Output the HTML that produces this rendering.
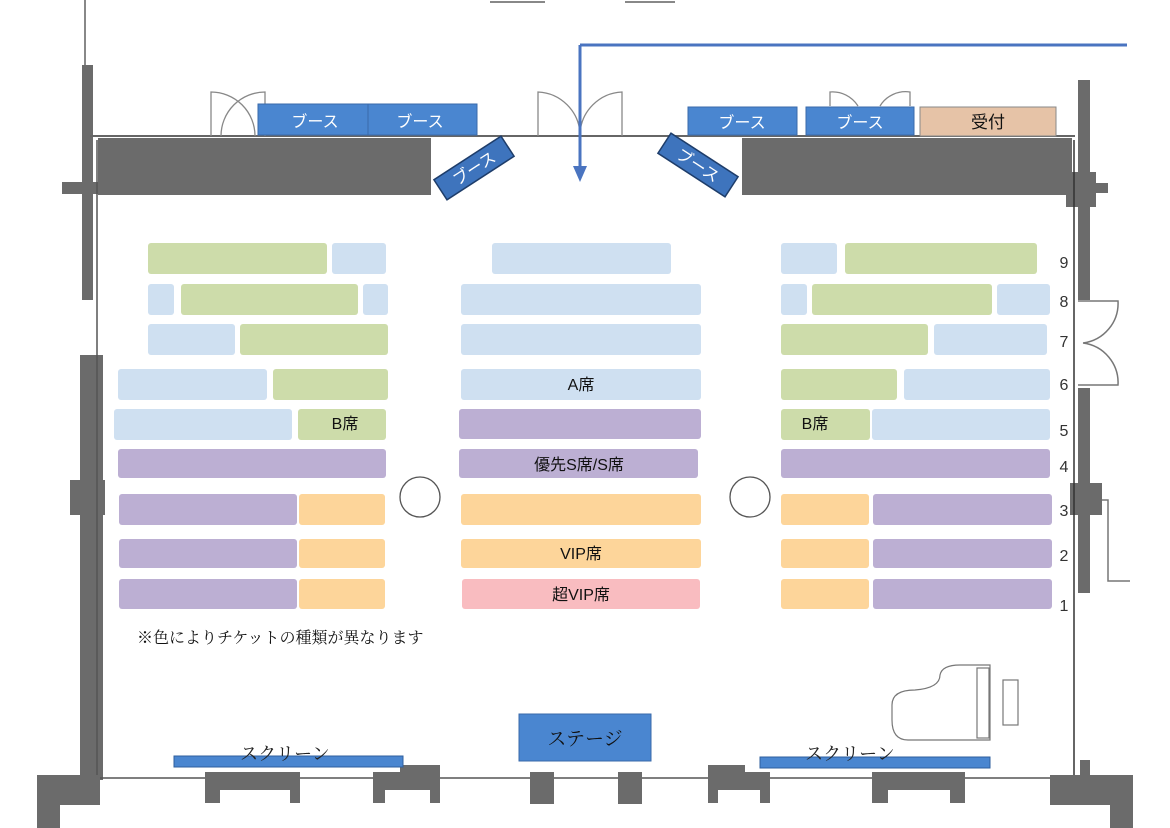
<!DOCTYPE html>
<html><head><meta charset="utf-8"><style>
html,body{margin:0;padding:0;background:#fff;}
svg{display:block;font-family:"Liberation Sans","Noto Sans CJK JP",sans-serif;}
</style></head><body>
<svg width="1170" height="828" viewBox="0 0 1170 828" xmlns="http://www.w3.org/2000/svg">
<!-- top misc lines -->
<line x1="490" y1="2" x2="545" y2="2" stroke="#888" stroke-width="2"/>
<line x1="625" y1="2" x2="675" y2="2" stroke="#888" stroke-width="2"/>
<!-- left wall -->
<rect x="84" y="0" width="2" height="65" fill="#888"/>
<rect x="82" y="65" width="11" height="235" fill="#6b6b6b"/>
<rect x="80" y="355" width="23" height="425" fill="#6b6b6b"/>
<rect x="70" y="480" width="35" height="35" fill="#6b6b6b"/>
<rect x="62" y="182" width="40" height="12" fill="#6b6b6b"/>
<line x1="97" y1="140" x2="97" y2="778" stroke="#555" stroke-width="1.5"/>
<!-- right wall -->
<rect x="1078" y="80" width="12" height="220" fill="#6b6b6b"/>
<rect x="1078" y="388" width="12" height="205" fill="#6b6b6b"/>
<rect x="1066" y="172" width="30" height="35" fill="#6b6b6b"/>
<rect x="1090" y="183" width="18" height="10" fill="#6b6b6b"/>
<rect x="1070" y="483" width="32" height="32" fill="#6b6b6b"/>
<line x1="1074" y1="140" x2="1074" y2="778" stroke="#333" stroke-width="1.5"/>
<path d="M1078 301 L1118 301 A40 40 0 0 1 1083 343 M1078 385 L1118 385 A40 40 0 0 0 1083 343" fill="none" stroke="#777" stroke-width="1.5"/>
<path d="M1102 500 L1108 500 L1108 581 L1130 581" fill="none" stroke="#777" stroke-width="1.5"/>
<!-- top wall -->
<line x1="90" y1="136" x2="1075" y2="136" stroke="#666" stroke-width="2"/>
<rect x="98" y="138" width="333" height="57" fill="#6b6b6b"/>
<rect x="742" y="138" width="330" height="57" fill="#6b6b6b"/>
<!-- doors -->
<path d="M211 136 L211 92 A44 44 0 0 1 255 136 M265 136 L265 92 A44 44 0 0 0 221 136" fill="none" stroke="#888" stroke-width="1.3"/>
<path d="M538 136 L538 92 A44 44 0 0 1 580 134 M622 136 L622 92 A44 44 0 0 0 580 134" fill="none" stroke="#888" stroke-width="1.3"/>
<path d="M830 106 L830 92 A30 30 0 0 1 858 106 M910 106 L910 92 A30 30 0 0 0 880 106" fill="none" stroke="#888" stroke-width="1.3"/>
<!-- booths -->
<g font-size="16" fill="#fff" text-anchor="middle">
<rect x="258" y="104" width="110" height="31" fill="#4a86d0" stroke="#3a6aaa"/>
<rect x="368" y="104" width="109" height="31" fill="#4a86d0" stroke="#3a6aaa"/>
<text x="315" y="127">ブース</text><text x="420" y="127">ブース</text>
<rect x="688" y="107" width="109" height="28" fill="#4a86d0" stroke="#3a6aaa"/>
<rect x="806" y="107" width="108" height="28" fill="#4a86d0" stroke="#3a6aaa"/>
<text x="742" y="128">ブース</text><text x="860" y="128">ブース</text>
<g transform="translate(474,168) rotate(-33)"><rect x="-40" y="-12" width="80" height="24" fill="#3e74bd" stroke="#1e3d6a" stroke-width="1.5"/><text x="0" y="6">ブース</text></g>
<g transform="translate(698,165) rotate(33)"><rect x="-40" y="-12" width="80" height="24" fill="#3e74bd" stroke="#1e3d6a" stroke-width="1.5"/><text x="0" y="6">ブース</text></g>
</g>
<rect x="920" y="107" width="136" height="29" fill="#e6c3a7" stroke="#888"/>
<text x="988" y="128" font-size="17" text-anchor="middle" fill="#111">受付</text>
<!-- arrow -->
<path d="M580 45 L1127 45 M580 45 L580 168" fill="none" stroke="#4a74c0" stroke-width="3"/>
<polygon points="573,166 587,166 580,182" fill="#4a74c0"/>
<!-- seats -->
<g>
<!-- row 9 -->
<rect x="148" y="243" width="179" height="31" rx="3" fill="#cddcaa"/>
<rect x="332" y="243" width="54" height="31" rx="3" fill="#cfe0f1"/>
<rect x="492" y="243" width="179" height="31" rx="3" fill="#cfe0f1"/>
<rect x="781" y="243" width="56" height="31" rx="3" fill="#cfe0f1"/>
<rect x="845" y="243" width="192" height="31" rx="3" fill="#cddcaa"/>
<!-- row 8 -->
<rect x="148" y="284" width="26" height="31" rx="3" fill="#cfe0f1"/>
<rect x="181" y="284" width="177" height="31" rx="3" fill="#cddcaa"/>
<rect x="363" y="284" width="25" height="31" rx="3" fill="#cfe0f1"/>
<rect x="461" y="284" width="240" height="31" rx="3" fill="#cfe0f1"/>
<rect x="781" y="284" width="26" height="31" rx="3" fill="#cfe0f1"/>
<rect x="812" y="284" width="180" height="31" rx="3" fill="#cddcaa"/>
<rect x="997" y="284" width="53" height="31" rx="3" fill="#cfe0f1"/>
<!-- row 7 -->
<rect x="148" y="324" width="87" height="31" rx="3" fill="#cfe0f1"/>
<rect x="240" y="324" width="148" height="31" rx="3" fill="#cddcaa"/>
<rect x="461" y="324" width="240" height="31" rx="3" fill="#cfe0f1"/>
<rect x="781" y="324" width="147" height="31" rx="3" fill="#cddcaa"/>
<rect x="934" y="324" width="113" height="31" rx="3" fill="#cfe0f1"/>
<!-- row 6 -->
<rect x="118" y="369" width="149" height="31" rx="3" fill="#cfe0f1"/>
<rect x="273" y="369" width="115" height="31" rx="3" fill="#cddcaa"/>
<rect x="461" y="369" width="240" height="31" rx="3" fill="#cfe0f1"/>
<rect x="781" y="369" width="116" height="31" rx="3" fill="#cddcaa"/>
<rect x="904" y="369" width="146" height="31" rx="3" fill="#cfe0f1"/>
<!-- row 5 -->
<rect x="114" y="409" width="178" height="31" rx="3" fill="#cfe0f1"/>
<rect x="298" y="409" width="88" height="31" rx="3" fill="#cddcaa"/>
<rect x="459" y="409" width="242" height="30" rx="3" fill="#bcafd3"/>
<rect x="781" y="409" width="89" height="31" rx="3" fill="#cddcaa"/>
<rect x="872" y="409" width="178" height="31" rx="3" fill="#cfe0f1"/>
<!-- row 4 -->
<rect x="118" y="449" width="268" height="29" rx="3" fill="#bcafd3"/>
<rect x="459" y="449" width="239" height="29" rx="3" fill="#bcafd3"/>
<rect x="781" y="449" width="269" height="29" rx="3" fill="#bcafd3"/>
<!-- rows 3,2,1 -->
<rect x="119" y="494" width="178" height="31" rx="3" fill="#bcafd3"/>
<rect x="299" y="494" width="86" height="31" rx="3" fill="#fdd59a"/>
<rect x="461" y="494" width="240" height="31" rx="3" fill="#fdd59a"/>
<rect x="781" y="494" width="88" height="31" rx="3" fill="#fdd59a"/>
<rect x="873" y="494" width="179" height="31" rx="3" fill="#bcafd3"/>
<rect x="119" y="539" width="178" height="29" rx="3" fill="#bcafd3"/>
<rect x="299" y="539" width="86" height="29" rx="3" fill="#fdd59a"/>
<rect x="461" y="539" width="240" height="29" rx="3" fill="#fdd59a"/>
<rect x="781" y="539" width="88" height="29" rx="3" fill="#fdd59a"/>
<rect x="873" y="539" width="179" height="29" rx="3" fill="#bcafd3"/>
<rect x="119" y="579" width="178" height="30" rx="3" fill="#bcafd3"/>
<rect x="299" y="579" width="86" height="30" rx="3" fill="#fdd59a"/>
<rect x="462" y="579" width="238" height="30" rx="3" fill="#f9bcc0"/>
<rect x="781" y="579" width="88" height="30" rx="3" fill="#fdd59a"/>
<rect x="873" y="579" width="179" height="30" rx="3" fill="#bcafd3"/>
</g>
<g font-size="16" fill="#111" text-anchor="middle">
<text x="345" y="429">B席</text>
<text x="581" y="390">A席</text>
<text x="579" y="470">優先S席/S席</text>
<text x="581" y="559">VIP席</text>
<text x="581" y="600">超VIP席</text>
<text x="815" y="429">B席</text>
</g>
<g font-size="16" fill="#333" text-anchor="middle">
<text x="1064" y="268">9</text><text x="1064" y="307">8</text><text x="1064" y="347">7</text>
<text x="1064" y="390">6</text><text x="1064" y="436">5</text><text x="1064" y="472">4</text>
<text x="1064" y="516">3</text><text x="1064" y="561">2</text><text x="1064" y="611">1</text>
</g>
<circle cx="420" cy="497" r="20" fill="#fff" stroke="#555" stroke-width="1.3"/>
<circle cx="750" cy="497" r="20" fill="#fff" stroke="#555" stroke-width="1.3"/>
<text x="137" y="643" font-size="16" fill="#111" font-family="'Liberation Serif','Noto Serif CJK SC',serif">※色によりチケットの種類が異なります</text>
<!-- piano -->
<path d="M990 665 L990 740 L908 740 Q892 740 892 720 L892 705 Q892 690 915 690 Q940 688 940 675 Q942 665 960 665 Z" fill="#fff" stroke="#777" stroke-width="1.2"/>
<rect x="977" y="668" width="12" height="70" fill="none" stroke="#777" stroke-width="1.2"/>
<rect x="1003" y="680" width="15" height="45" fill="none" stroke="#777" stroke-width="1.2"/>
<!-- bottom walls -->
<line x1="97" y1="778" x2="1074" y2="778" stroke="#555" stroke-width="1.5"/>
<path d="M37 828 L37 775 L80 775 L80 760 L90 760 L90 775 L100 775 L100 805 L60 805 L60 828 Z" fill="#6b6b6b"/>
<path d="M1133 828 L1133 775 L1090 775 L1090 760 L1080 760 L1080 775 L1050 775 L1050 805 L1110 805 L1110 828 Z" fill="#6b6b6b"/>
<path d="M205 772 L300 772 L300 803 L290 803 L290 790 L220 790 L220 803 L205 803 Z" fill="#6b6b6b"/>
<path d="M373 772 L400 772 L400 765 L440 765 L440 803 L430 803 L430 790 L385 790 L385 803 L373 803 Z" fill="#6b6b6b"/>
<rect x="530" y="772" width="24" height="32" fill="#6b6b6b"/>
<rect x="618" y="772" width="24" height="32" fill="#6b6b6b"/>
<path d="M708 765 L745 765 L745 772 L770 772 L770 803 L760 803 L760 790 L718 790 L718 803 L708 803 Z" fill="#6b6b6b"/>
<path d="M872 772 L965 772 L965 803 L950 803 L950 790 L888 790 L888 803 L872 803 Z" fill="#6b6b6b"/>
<!-- screens & stage -->
<rect x="174" y="756" width="229" height="11" fill="#4a86d0" stroke="#2f5f9e"/>
<rect x="760" y="757" width="230" height="11" fill="#4a86d0" stroke="#2f5f9e"/>
<g font-size="18" fill="#222" text-anchor="middle" font-family="'Liberation Serif','Noto Serif CJK SC',serif">
<text x="285" y="760">スクリーン</text>
<text x="850" y="760">スクリーン</text>
</g>
<rect x="519" y="714" width="132" height="47" fill="#4a86d0" stroke="#3a6aaa"/>
<text x="585" y="745" font-size="19" fill="#111" text-anchor="middle" font-family="'Liberation Serif','Noto Serif CJK SC',serif">ステージ</text>
</svg>
</body></html>
